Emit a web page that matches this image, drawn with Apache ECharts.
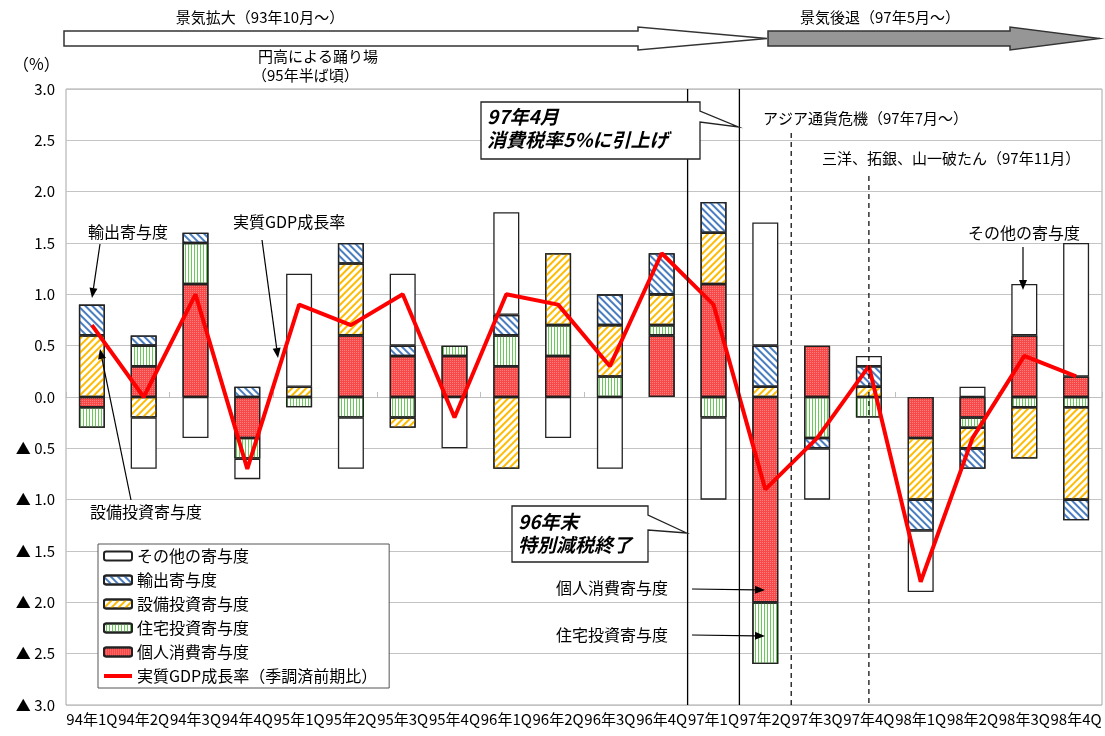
<!DOCTYPE html>
<html><head><meta charset="utf-8">
<script src="https://cdn.jsdelivr.net/npm/echarts@6/dist/echarts.min.js"></script>
<style>html,body{margin:0;padding:0;background:#fff}#c{width:1105px;height:736px}</style>
</head><body><div id="c"></div>
<script>
// ---- data ----
const categories = ['94年1Q','94年2Q','94年3Q','94年4Q','95年1Q','95年2Q','95年3Q','95年4Q','96年1Q','96年2Q','96年3Q','96年4Q','97年1Q','97年2Q','97年3Q','97年4Q','98年1Q','98年2Q','98年3Q','98年4Q'];
const kojinShohi = [-0.1, 0.3, 1.1, -0.4, null, 0.6, 0.4, 0.4, 0.3, 0.4, null, 0.6, 1.1, -2.0, 0.5, null, -0.4, -0.2, 0.6, 0.2];
const jutakuToshi = [-0.2, 0.2, 0.4, -0.2, -0.1, -0.2, -0.2, 0.1, 0.3, 0.3, 0.2, 0.1, -0.2, -0.6, -0.4, -0.2, null, -0.1, -0.1, -0.1];
const setsubiToshi = [0.6, -0.2, null, null, 0.1, 0.7, -0.1, null, -0.7, 0.7, 0.5, 0.3, 0.5, 0.1, null, 0.1, -0.6, -0.2, -0.5, -0.9];
const yushutsu = [0.3, 0.1, 0.1, 0.1, null, 0.2, 0.1, null, 0.2, null, 0.3, 0.4, 0.3, 0.4, -0.1, 0.2, -0.3, -0.2, null, -0.2];
const sonota = [null, -0.5, -0.4, -0.2, 1.1, -0.5, 0.7, -0.5, 1.0, -0.4, -0.7, null, -0.8, 1.2, -0.5, 0.1, -0.6, 0.1, 0.5, 1.3];
const gdpGrowth = [0.7, 0.0, 1.0, -0.7, 0.9, 0.7, 1.0, -0.2, 1.0, 0.9, 0.3, 1.4, 0.9, -0.9, -0.4, 0.3, -1.8, -0.4, 0.4, 0.2];
const yTicks = {min: -3, max: 3, interval: 0.5};
const seriesNames = ['個人消費寄与度','住宅投資寄与度','設備投資寄与度','輸出寄与度','その他の寄与度','実質GDP成長率（季調済前期比）'];

const FONT = '"Noto Sans CJK JP", "Noto Sans CJK SC", sans-serif';
const chart = echarts.init(document.getElementById('c'), null, {renderer: 'canvas'});

function barSeries(name, data, color, decal) {
  return {
    name, type: 'bar', stack: 'total', data, barWidth: 26,
    itemStyle: {color, borderColor: '#222', borderWidth: 1.3, decal},
    emphasis: {disabled: true}
  };
}

const option = {
  animation: false,
  textStyle: {fontFamily: FONT, color: '#000'},
  grid: {left: 66, right: 3, top: 89, bottom: 31, show: true, borderColor: '#a6a6a6', borderWidth: 1},
  legend: {
    orient: 'vertical', left: 98, top: 544,
    data: [seriesNames[4], seriesNames[3], seriesNames[2], seriesNames[1], seriesNames[0],
      {name: seriesNames[5], icon: 'path://M0,0H28V4H0Z', itemStyle: {color: '#ff0000', borderWidth: 0}}],
    backgroundColor: '#fff', borderColor: '#555', borderWidth: 1,
    padding: [4, 12, 4, 5], itemWidth: 28, itemHeight: 9, itemGap: 8, itemTextGap: 4,
    textStyle: {fontSize: 16, fontFamily: FONT, color: '#000', lineHeight: 16},
    selectedMode: false
  },
  xAxis: [
    {type: 'category', data: categories, position: 'bottom',
     axisLine: {show: false, onZero: false}, axisTick: {show: false},
     axisLabel: {interval: 0, fontSize: 15, color: '#000', margin: 7, fontFamily: FONT},
     splitLine: {show: false}},
    {type: 'category', data: categories, position: 'top',
     axisLine: {show: true, onZero: true, lineStyle: {color: '#bfbfbf', width: 1}},
     axisTick: {show: true, length: 5, lineStyle: {color: '#bfbfbf'}},
     axisLabel: {show: false}, splitLine: {show: false}}
  ],
  yAxis: {
    type: 'value', min: yTicks.min, max: yTicks.max, interval: yTicks.interval,
    axisLine: {show: false}, axisTick: {show: false},
    splitLine: {lineStyle: {color: '#c4c4c4', width: 1}},
    axisLabel: {fontSize: 15, color: '#000', margin: 11, fontFamily: FONT,
      formatter: v => v < 0 ? '▲ ' + (-v).toFixed(1) : v.toFixed(1)}
  },
  series: [
    barSeries(seriesNames[0], kojinShohi, '#f84848',
      {symbol: 'rect', symbolSize: 1, color: 'rgba(255,200,200,0.45)', dashArrayX: [1, 1], dashArrayY: [1, 1]}),
    barSeries(seriesNames[1], jutakuToshi, '#ffffff',
      {symbol: 'rect', symbolSize: 1, color: '#66cc55', dashArrayX: [1, 0], dashArrayY: [1, 2], rotation: Math.PI / 2}),
    barSeries(seriesNames[2], setsubiToshi, '#ffffff',
      {symbol: 'rect', symbolSize: 1, color: '#ffbb00', dashArrayX: [1, 0], dashArrayY: [1.6, 2.4], rotation: -Math.PI / 4}),
    barSeries(seriesNames[3], yushutsu, '#ffffff',
      {symbol: 'rect', symbolSize: 1, color: '#4a7ec0', dashArrayX: [1, 0], dashArrayY: [1.6, 2.4], rotation: Math.PI / 4}),
    barSeries(seriesNames[4], sonota, '#ffffff', null),
    {name: seriesNames[5], type: 'line', data: gdpGrowth, symbol: 'none', z: 5,
     lineStyle: {color: '#ff0000', width: 4}, itemStyle: {color: '#ff0000'}, emphasis: {disabled: true}}
  ]
};
chart.setOption(option);

// ---- annotations ----
const px = i => chart.convertToPixel({xAxisIndex: 0}, i);
const yTop = chart.convertToPixel({yAxisIndex: 0}, yTicks.max);
const yBot = chart.convertToPixel({yAxisIndex: 0}, yTicks.min);
const bw = px(1) - px(0);
const xb = k => px(k) - bw / 2;

function txt(text, x, y, size, extra) {
  return Object.assign({type: 'text', z: 120, style: Object.assign({
    text, x, y, fill: '#000', font: (size || 15) + 'px ' + FONT,
    align: 'left', verticalAlign: 'middle', textAlign: 'left', textVerticalAlign: 'middle'
  }, extra || {})});
}
function arrow(x1, y1, x2, y2) {
  const ang = Math.atan2(y2 - y1, x2 - x1);
  const L = 10, W = 4;
  const bx = x2 - L * Math.cos(ang), by = y2 - L * Math.sin(ang);
  const ox = -Math.sin(ang) * W, oy = Math.cos(ang) * W;
  return [
    {type: 'line', z: 120, shape: {x1, y1, x2: bx, y2: by}, style: {stroke: '#000', lineWidth: 1.2}},
    {type: 'polygon', z: 120, shape: {points: [[x2, y2], [bx + ox, by + oy], [bx - ox, by - oy]]}, style: {fill: '#000'}}
  ];
}

const g = [];
// top period arrows
g.push({type: 'polygon', z: 110, shape: {points: [[64, 31], [638, 31], [638, 27], [767, 38.5], [638, 50], [638, 46], [64, 46]]},
  style: {fill: '#fff', stroke: '#333', lineWidth: 1.5}});
g.push({type: 'polygon', z: 110, shape: {points: [[768, 31], [1010, 31], [1010, 27], [1100, 38.5], [1010, 50], [1010, 46], [768, 46]]},
  style: {fill: '#969696', stroke: '#333', lineWidth: 1.5}});
g.push(txt('景気拡大（93年10月～）', 260, 17, 15, {align: 'center', textAlign: 'center'}));
g.push(txt('景気後退（97年5月～）', 880, 17, 15, {align: 'center', textAlign: 'center'}));
g.push(txt('円高による踊り場', 258, 56, 15));
g.push(txt('（95年半ば頃）', 252, 75, 15));
g.push(txt('（%）', 13, 64, 16));

// event lines
g.push({type: 'line', z: 100, shape: {x1: xb(12), y1: yTop, x2: xb(12), y2: yBot}, style: {stroke: '#000', lineWidth: 1.3}});
g.push({type: 'line', z: 100, shape: {x1: xb(13), y1: yTop, x2: xb(13), y2: yBot}, style: {stroke: '#000', lineWidth: 1.3}});
g.push({type: 'line', z: 100, shape: {x1: xb(14), y1: 133, x2: xb(14), y2: yBot}, style: {stroke: '#000', lineWidth: 1.2, lineDash: [5, 4]}});
g.push({type: 'line', z: 100, shape: {x1: px(15), y1: 176, x2: px(15), y2: yBot}, style: {stroke: '#000', lineWidth: 1.2, lineDash: [5, 4]}});
g.push(txt('アジア通貨危機（97年7月～）', 763, 118, 15));
g.push(txt('三洋、拓銀、山一破たん（97年11月）', 822, 158, 15));

// callouts
g.push({type: 'polygon', z: 115, shape: {points: [[481, 102], [700, 102], [700, 111], [xb(13) - 1, 127], [700, 122], [700, 159], [481, 159]]},
  style: {fill: '#fff', stroke: '#222', lineWidth: 1.3}});
g.push(txt('97年4月', 487, 117, 19, {font: 'italic bold 19px ' + FONT}));
g.push(txt('消費税率5%に引上げ', 487, 140, 19, {font: 'italic bold 19px ' + FONT}));
g.push({type: 'polygon', z: 115, shape: {points: [[512, 506], [648, 506], [648, 515], [xb(12) - 1, 533], [648, 530], [648, 562], [512, 562]]},
  style: {fill: '#fff', stroke: '#222', lineWidth: 1.3}});
g.push(txt('96年末', 518, 522, 19, {font: 'italic bold 19px ' + FONT}));
g.push(txt('特別減税終了', 518, 545, 19, {font: 'italic bold 19px ' + FONT}));

// labels with arrows
g.push(txt('輸出寄与度', 88, 232, 16));
g.push(...arrow(100, 244, 92, 298));
g.push(txt('実質GDP成長率', 233, 222, 16));
g.push(...arrow(262, 240, 278, 358));
g.push(txt('設備投資寄与度', 90, 512, 16));
g.push(...arrow(131, 500, 100, 349));
g.push(txt('その他の寄与度', 968, 233, 16));
g.push(...arrow(1023, 247, 1023, 290));
g.push(txt('個人消費寄与度', 556, 588, 16));
g.push(...arrow(692, 589, 765, 590));
g.push(txt('住宅投資寄与度', 556, 635, 16));
g.push(...arrow(692, 635, 765, 636));

chart.setOption({graphic: {elements: g}});
</script>
</body></html>
